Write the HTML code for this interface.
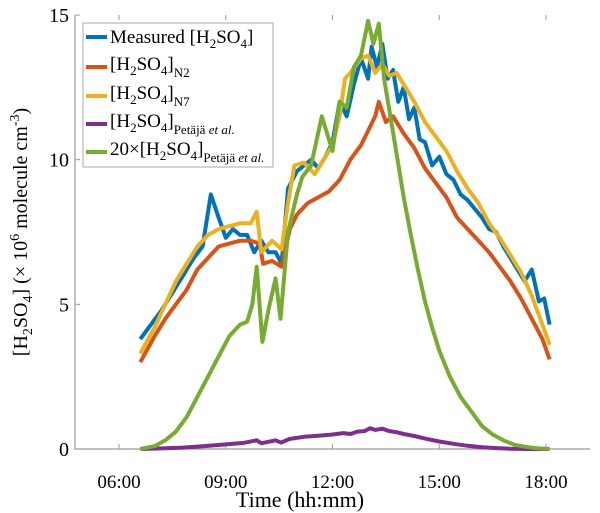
<!DOCTYPE html>
<html><head><meta charset="utf-8"><style>
body{margin:0;background:#fff}
svg{display:block;font-family:"Liberation Serif",serif}
</style></head><body>
<svg width="600" height="513" viewBox="0 0 600 513">
<g id="axes"></g>
<g id="series"></g>
<g>
<rect x="83" y="23" width="190" height="144" fill="#fff" stroke="#aaa" stroke-width="1"/>
<g><line x1="86" y1="37" x2="107" y2="37" stroke="#0072BD" stroke-width="4"/><text x="110" y="43" font-size="19">Measured [H<tspan font-size="13" dy="5">2</tspan><tspan dy="-5">SO</tspan><tspan font-size="13" dy="5">4</tspan><tspan dy="-5">]</tspan></text></g>
<g><line x1="86" y1="67" x2="107" y2="67" stroke="#D95319" stroke-width="4"/><text x="110" y="70" font-size="19">[H<tspan font-size="13" dy="5">2</tspan><tspan dy="-5">SO</tspan><tspan font-size="13" dy="5">4</tspan><tspan dy="-5">]</tspan><tspan font-size="13" dy="7">N2</tspan></text></g>
<g><line x1="86" y1="96" x2="107" y2="96" stroke="#EDB120" stroke-width="4"/><text x="110" y="99" font-size="19">[H<tspan font-size="13" dy="5">2</tspan><tspan dy="-5">SO</tspan><tspan font-size="13" dy="5">4</tspan><tspan dy="-5">]</tspan><tspan font-size="13" dy="7">N7</tspan></text></g>
<g><line x1="86" y1="124" x2="107" y2="124" stroke="#7E2F8E" stroke-width="4"/><text x="110" y="127" font-size="19">[H<tspan font-size="13" dy="5">2</tspan><tspan dy="-5">SO</tspan><tspan font-size="13" dy="5">4</tspan><tspan dy="-5">]</tspan><tspan font-size="13" dy="7">Petäjä <tspan font-style="italic">et al.</tspan></tspan></text></g>
<g><line x1="86" y1="152" x2="107" y2="152" stroke="#77AC30" stroke-width="4"/><text x="110" y="155" font-size="19">20×[H<tspan font-size="13" dy="5">2</tspan><tspan dy="-5">SO</tspan><tspan font-size="13" dy="5">4</tspan><tspan dy="-5">]</tspan><tspan font-size="13" dy="7">Petäjä <tspan font-style="italic">et al.</tspan></tspan></text></g>
</g>
<text x="300" y="507" font-size="22" text-anchor="middle">Time (hh:mm)</text>
<text transform="translate(27,232) rotate(-90)" font-size="20" text-anchor="middle">[H<tspan font-size="14" dy="5">2</tspan><tspan dy="-5">SO</tspan><tspan font-size="14" dy="5">4</tspan><tspan dy="-5">] (× 10</tspan><tspan font-size="14" dy="-8">6</tspan><tspan dy="8"> molecule cm</tspan><tspan font-size="14" dy="-8">-3</tspan><tspan dy="8">)</tspan></text>
</svg>
<script>
const xTicks=[6,9,12,15,18];
const xTickLabels=["06:00","09:00","12:00","15:00","18:00"];
const yTicks=[0,5,10,15];
const tMeas=[6.6,6.9,7.2,7.5,7.8,8.1,8.35,8.58,8.8,9.0,9.2,9.4,9.6,9.8,10.0,10.2,10.4,10.57,10.75,11.0,11.2,11.4,11.6,11.8,12.0,12.2,12.4,12.6,12.8,13.0,13.1,13.25,13.4,13.55,13.7,13.85,14.0,14.15,14.3,14.45,14.6,14.8,15.0,15.2,15.4,15.6,15.8,16.0,16.2,16.4,16.6,16.8,17.0,17.2,17.4,17.6,17.8,17.95,18.1];
const vMeas=[3.8,4.3,4.8,5.4,6.0,6.6,7.0,8.8,8.0,7.3,7.6,7.4,7.4,6.8,7.2,6.8,6.8,6.4,9.0,9.6,9.8,10.0,9.7,10.1,10.6,12.0,11.5,12.6,13.5,12.8,13.9,13.2,14.0,12.8,13.1,12.0,12.5,11.4,11.8,10.7,10.6,9.8,10.1,9.5,9.3,8.8,8.6,8.3,8.0,7.6,7.5,7.0,6.6,6.2,5.8,6.2,5.1,5.2,4.3];
const tN2=[6.6,7.0,7.3,7.6,7.9,8.2,8.5,8.8,9.1,9.4,9.7,9.95,10.05,10.3,10.57,10.8,11.0,11.3,11.6,11.9,12.2,12.5,12.8,13.0,13.2,13.3,13.5,13.7,14.0,14.3,14.6,14.9,15.2,15.5,15.8,16.1,16.4,16.7,17.0,17.3,17.6,17.9,18.1];
const vN2=[3.0,3.9,4.5,5.0,5.5,6.2,6.6,7.0,7.1,7.2,7.2,7.1,6.4,6.5,6.3,7.6,8.1,8.5,8.7,8.9,9.3,10.0,10.5,11.0,11.5,12.0,11.3,11.5,10.9,10.4,9.7,9.2,8.7,8.0,7.6,7.2,6.8,6.3,5.8,5.2,4.5,3.8,3.1];
const tN7=[6.6,7.0,7.3,7.6,7.9,8.2,8.5,8.8,9.1,9.4,9.7,9.87,10.0,10.3,10.57,10.75,10.93,11.2,11.5,11.8,12.0,12.2,12.35,12.5,12.8,13.0,13.2,13.4,13.6,13.8,14.0,14.3,14.6,14.9,15.2,15.5,15.8,16.1,16.4,16.7,17.0,17.3,17.6,17.9,18.1];
const vN7=[3.3,4.2,5.0,5.8,6.4,7.0,7.4,7.6,7.7,7.8,7.8,8.2,6.8,7.2,6.9,8.5,9.8,9.9,9.5,10.1,10.5,11.5,12.8,13.0,13.5,13.6,13.0,13.3,12.9,13.0,12.6,12.0,11.3,10.8,10.3,9.6,9.0,8.5,7.8,7.3,6.7,6.1,5.3,4.3,3.6];
const tP20=[6.6,7.0,7.3,7.6,7.9,8.2,8.5,8.8,9.1,9.4,9.6,9.75,9.87,10.03,10.2,10.4,10.54,10.75,11.0,11.15,11.4,11.7,12.0,12.2,12.4,12.6,12.8,13.0,13.15,13.3,13.45,13.6,13.8,14.0,14.2,14.4,14.6,14.8,15.0,15.3,15.6,15.9,16.2,16.5,16.8,17.1,17.4,17.7,18.1];
const vP20=[0.0,0.1,0.3,0.6,1.1,1.8,2.5,3.2,3.9,4.3,4.4,5.0,6.3,3.7,4.8,5.9,4.5,7.5,8.8,9.4,9.8,11.5,10.3,12.0,11.8,13.2,13.6,14.8,14.0,14.7,12.8,11.7,10.2,8.7,7.4,6.2,5.1,4.2,3.4,2.5,1.8,1.3,0.8,0.5,0.3,0.15,0.08,0.03,0.0];
const tP=[6.6,7.2,7.8,8.4,9.0,9.5,9.87,10.0,10.2,10.4,10.55,10.8,11.2,11.6,12.0,12.3,12.5,12.7,12.9,13.05,13.2,13.4,13.6,13.8,14.0,14.3,14.6,15.0,15.4,15.8,16.2,16.6,17.0,17.5,18.1];
const vP=[0.0,0.02,0.05,0.1,0.16,0.21,0.3,0.2,0.25,0.3,0.22,0.35,0.42,0.46,0.5,0.55,0.52,0.6,0.62,0.72,0.66,0.7,0.62,0.58,0.52,0.45,0.36,0.26,0.18,0.11,0.06,0.03,0.01,0.0,0.0];
const NS="http://www.w3.org/2000/svg";
const X0=75,X1=590,Y0=449,Y1=15;
const xs=t=>119+(t-6)*(546-119)/12;
const ys=v=>Y0-(v/15)*(Y0-Y1);
const axes=document.getElementById('axes');
function mk(tag,attrs,parent){const e=document.createElementNS(NS,tag);for(const k in attrs)e.setAttribute(k,attrs[k]);parent.appendChild(e);return e;}
mk('path',{d:`M${X0},${Y1}V${Y0}H${X1}`,fill:'none',stroke:'#999','stroke-width':1.2},axes);
xTicks.forEach((t,i)=>{
  const x=xs(t);
  const tk=mk('line',{x1:x,x2:x,y1:Y0,y2:Y0-5,stroke:'#999'},axes);
  
  
  const tk2=mk('line',{x1:x,x2:x,y1:Y1,y2:Y1+5,stroke:'#999'},axes);
  
  
  const lb=mk('text',{x:x,y:488,'font-size':19,'text-anchor':'middle'},axes);
  lb.textContent=xTickLabels[i];
  
  
});
yTicks.forEach(v=>{
  const y=ys(v);
  const tk=mk('line',{x1:X0,x2:X0+5,y1:y,y2:y,stroke:'#999'},axes);
  
  
  const lb=mk('text',{x:X0-6,y:y+7,'font-size':20,'text-anchor':'end'},axes);
  lb.textContent=String(v);
  
  
});
const ser=document.getElementById('series');
function line(ts,vs,color,name){
  const p=mk('polyline',{points:ts.map((t,i)=>xs(t).toFixed(1)+','+ys(vs[i]).toFixed(1)).join(' '),fill:'none',stroke:color,'stroke-width':4,'stroke-linejoin':'round'},ser);
  
  
}
line(tMeas,vMeas,'#0072BD','measured-line');
line(tN2,vN2,'#D95319','n2-line');
line(tN7,vN7,'#EDB120','n7-line');
line(tP,vP,'#7E2F8E','petaja-line');
line(tP20,vP20,'#77AC30','petaja-x20-line');
</script>
</body></html>
